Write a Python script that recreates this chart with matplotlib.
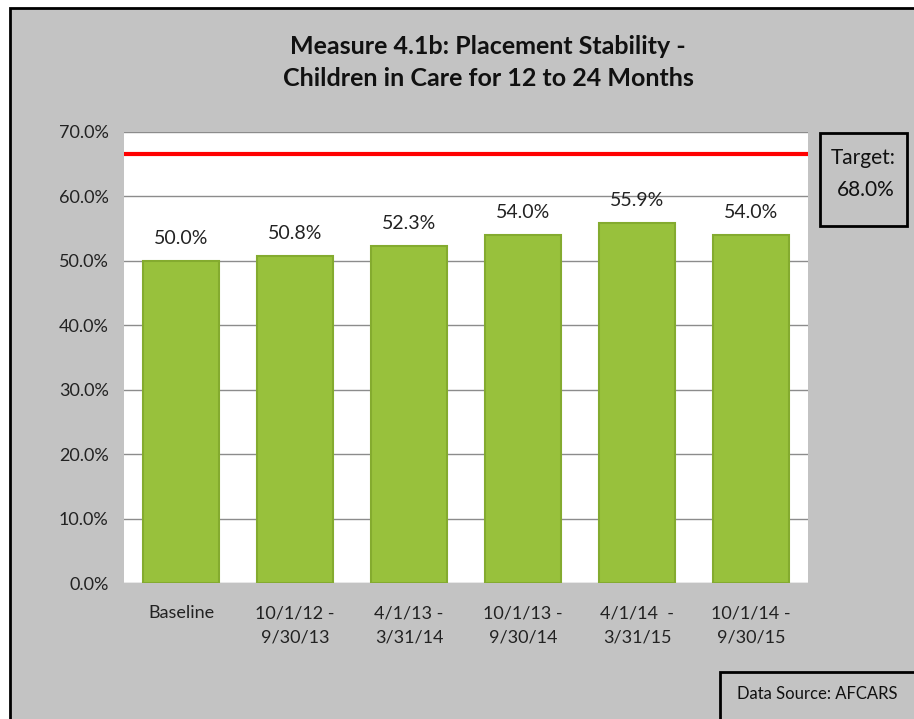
import matplotlib
matplotlib.use("Agg")
from matplotlib import pyplot as plt
from matplotlib.patches import Rectangle

categories = ["Baseline", "10/1/12 -\n9/30/13", "4/1/13 -\n3/31/14",
              "10/1/13 -\n9/30/14", "4/1/14  -\n3/31/15", "10/1/14 -\n9/30/15"]
values = [50.0, 50.8, 52.3, 54.0, 55.9, 54.0]
target_line = 66.6
target_label = "68.0%"
yticks = [0, 10, 20, 30, 40, 50, 60, 70]

plt.rcParams['font.family'] = ['Lato', 'DejaVu Sans']

fig = plt.figure(figsize=(9.14, 7.19), dpi=100)
fig.patch.set_facecolor('white')
# gray panel with black frame, kept behind the axes
fig.patches.append(Rectangle((10/914, -0.02), 1.0, (719-8)/719 + 0.02,
                             transform=fig.transFigure, facecolor='#c3c3c3',
                             edgecolor='black', linewidth=2, zorder=-10))

ax = fig.add_axes([124/914, (719-583)/719, 684/914, 451/719])
ax.set_facecolor('white')
x = range(len(categories))
ax.bar(x, values, width=0.66, color='#98c13c', edgecolor='#84ab2f', linewidth=1.5, zorder=3)
for xi, v in zip(x, values):
    ax.text(xi, v + 2.2, "{:.1f}%".format(v), ha='center', va='bottom', fontsize=14, color='#222222')
ax.axhline(target_line, color='#ff0000', linewidth=3, zorder=4)

ax.set_ylim(0, 70)
ax.set_xlim(-0.5, len(categories) - 0.5)
ax.set_yticks(yticks)
ax.set_yticklabels(["{:.1f}%".format(t) for t in yticks], fontsize=13, color='#222222')
ax.set_xticks(list(x))
ax.set_xticklabels(categories, fontsize=13, color='#222222', linespacing=1.65)
ax.tick_params(length=0)
ax.tick_params(axis='x', pad=16)
ax.tick_params(axis='y', pad=11)
ax.grid(axis='y', color='#8c8c8c', linewidth=1, zorder=0)
for s in ax.spines.values():
    s.set_visible(False)

fig.text(488/914, 1 - 47/719, "Measure 4.1b: Placement Stability -", ha='center', va='center',
         fontsize=18, fontweight='bold', color='#111111')
fig.text(488/914, 1 - 79/719, "Children in Care for 12 to 24 Months", ha='center', va='center',
         fontsize=18, fontweight='bold', color='#111111')

# target box
fig.patches.append(Rectangle((820/914, 1 - 226/719), 87/914, 93/719, transform=fig.transFigure,
                             facecolor='none', edgecolor='black', linewidth=2))
fig.text(863/914, 1 - 158/719, "Target:", ha='center', va='center', fontsize=15, color='#111111')
fig.text(866/914, 1 - 190/719, target_label, ha='center', va='center', fontsize=15, color='#111111')

# data source box
fig.patches.append(Rectangle((720/914, -0.02), 0.3, (719-672)/719 + 0.02, transform=fig.transFigure,
                             facecolor='none', edgecolor='black', linewidth=2))
fig.text(817/914, 1 - 694/719, "Data Source: AFCARS", ha='center', va='center', fontsize=12, color='#111111')

plt.savefig("out.png", dpi=100)
